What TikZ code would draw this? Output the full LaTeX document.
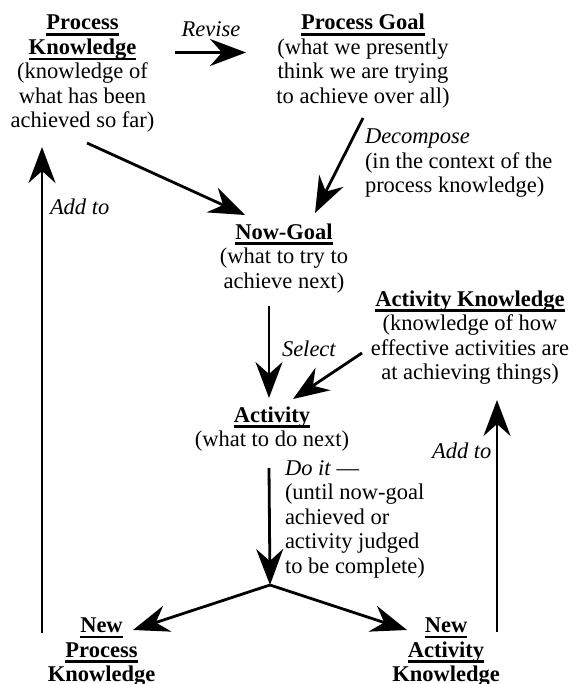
\documentclass[tikz,border=0pt]{standalone}
\usepackage{fontspec}
\setmainfont{Liberation Serif}
\usetikzlibrary{arrows.meta}
\newcommand\ulx[1]{\setbox0=\hbox{#1}\leavevmode\rlap{\vrule height -3.4pt depth 5.6pt width\wd0}\box0}
\tikzset{
  txt/.style={inner sep=0pt, outer sep=0pt, font=\fontsize{22.5}{24.5}\selectfont},
  block/.style={txt, align=center, anchor=north},
  lblock/.style={txt, align=left, anchor=north west},
  lab/.style={txt, font=\fontsize{22.5}{24.5}\selectfont\itshape},
  conn/.style={line width=2.8pt, -{Stealth[length=36pt,width=27pt,inset=12pt]}},
}
\begin{document}
\begin{tikzpicture}[x=1pt,y=-1pt]
\useasboundingbox (0,0) rectangle (571,684);
% blocks
\node[block] (PK) at (82.5,12.85) {\strut\textbf{\ulx{Process}}\\\textbf{\ulx{Knowledge}}\\(knowledge of\\what has been\\achieved so far)};
\node[block] (PG) at (363,12.85) {\strut\textbf{\ulx{Process Goal}}\\(what we presently\\think we are trying\\to achieve over all)};
\node[block] (NG) at (284,221.85) {\strut\textbf{\ulx{Now-Goal}}\\(what to try to\\achieve next)};
\node[block] (AK) at (470,288.85) {\strut\textbf{\ulx{Activity Knowledge}}\\(knowledge of how\\effective activities are\\at achieving things)};
\node[block] (ACT) at (272,404.85) {\strut\textbf{\ulx{Activity}}\\(what to do next)};
\node[block] (NPK) at (101.5,615.35) {\strut\textbf{\ulx{New}}\\\textbf{\ulx{Process}}\\\textbf{\ulx{Knowledge}}};
\node[block] (NAK) at (446,615.35) {\strut\textbf{\ulx{New}}\\\textbf{\ulx{Activity}}\\\textbf{\ulx{Knowledge}}};
% labels
\node[lab, anchor=base] (rev) at (211,37) {Revise};
\node[lblock] (dec) at (365,126.85) {\strut\textit{Decompose}\\(in the context of the\\process knowledge)};
\node[lab, anchor=base west] (sel) at (282,356) {Select};
\node[lblock] (doit) at (285,457.85) {\strut\textit{Do it} —\\(until now-goal\\achieved or\\activity judged\\to be complete)};
\node[lab, anchor=base west] (addl) at (50,215) {Add to};
\node[lab, anchor=base west] (addr) at (432,458) {Add to};
\coordinate (J) at (270,585);
% connectors
\draw[conn] ([shift={(92.5,39.65)}]PK.north) -- ([shift={(-117,39.65)}]PG.north);
\draw[conn] ([shift={(0,105.15)}]PG.north) -- ([shift={(31,-8.85)}]NG.north);
\draw[conn] ([shift={(4.5,130.15)}]PK.north) -- ([shift={(-39,-6.85)}]NG.north);
\draw[conn] ([shift={(-15,84.15)}]NG.north) -- ([shift={(-3,-6.85)}]ACT.north);
\draw[conn] ([shift={(-108,64.15)}]AK.north) -- ([shift={(21,-5.85)}]ACT.north);
\draw[conn] ([shift={(-3,63.15)}]ACT.north) -- (J);
\draw[conn] (J) -- ([shift={(31.5,14.65)}]NPK.north);
\draw[conn] (J) -- ([shift={(-39,14.65)}]NAK.north);
\draw[conn] ([shift={(-59.5,17.65)}]NPK.north) -- ([shift={(-40.5,134.15)}]PK.north);
\draw[conn] ([shift={(51,16.65)}]NAK.north) -- ([shift={(27,111.15)}]AK.north);
\end{tikzpicture}
\end{document}
